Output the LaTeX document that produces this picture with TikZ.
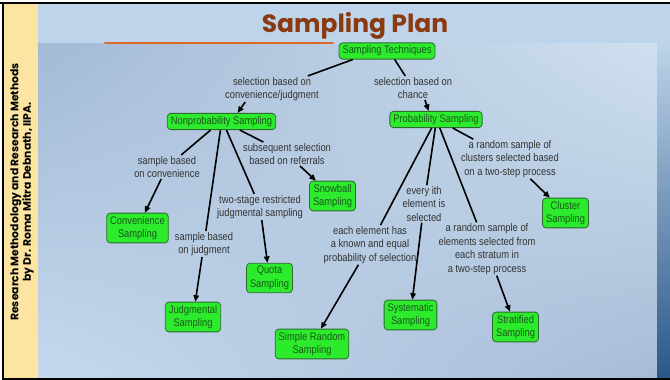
\documentclass[tikz,border=0pt]{standalone}
\usepackage{fontspec}
\setmainfont{Liberation Sans}
\newfontfamily\mapfont{Liberation Sans}[FakeStretch=0.85]
\newfontfamily\slidefont{Poppins}
\usetikzlibrary{arrows.meta,shadings}
\definecolor{slideblue}{HTML}{BDD4EA}
\definecolor{panelul}{HTML}{A3BAD5}
\definecolor{panelur}{HTML}{CFE0F0}
\definecolor{panelll}{HTML}{C5D9EE}
\definecolor{panellr}{HTML}{A6BCD6}
\definecolor{stripblue}{HTML}{2B5788}
\definecolor{credityellow}{HTML}{FCE4A2}
\definecolor{titlebrown}{HTML}{8B3A10}
\definecolor{ruleorange}{HTML}{E0692A}
\definecolor{boxgreen}{HTML}{2CEB2C}
\definecolor{boxedge}{HTML}{2F6B2F}
\definecolor{boxtext}{HTML}{1C561C}
\definecolor{phrasegray}{HTML}{333333}

\begin{document}
\begin{tikzpicture}[x=1pt, y=-1pt, concept/.style={draw=boxedge, fill=boxgreen, rounded corners=3.5pt, line width=0.8pt, align=center, inner xsep=3.5pt, inner ysep=3pt, text=boxtext, font=\mapfont\fontsize{11}{13.5}\selectfont}, phrase/.style={align=center, inner sep=1pt, text=phrasegray, font=\mapfont\fontsize{11}{13.5}\selectfont}, link/.style={line width=1.6pt, black}, arr/.style={-{Triangle[length=6.5pt, width=5.5pt]}, line width=1.6pt, black}]
\useasboundingbox (0,0) rectangle (670,380);
% slide background
\fill[white] (0,0) rectangle (670,380); \fill[slideblue] (4,4) rectangle (670,378);
\shade[upper left=panelul, upper right=panelur, lower left=panelll, lower right=panellr] (38,43) rectangle (657,378);
\shade[top color=slideblue, bottom color=stripblue] (657,43) rectangle (670,378);
\fill[credityellow] (4,4) rectangle (38,378);
\draw[line width=2pt] (0,3) -- (670,3); \draw[line width=2pt] (3,3) -- (3,379) -- (670,379);
\draw[ruleorange, line width=2pt, line cap=round] (105,43) -- (333,43);
\node[font=\slidefont\bfseries\fontsize{25}{30}\selectfont, text=titlebrown, anchor=base] (title) at (355,32) {Sampling Plan};
\node[rotate=90, align=center, font=\slidefont\bfseries\fontsize{10.8}{12.5}\selectfont] (credit) at (22,192) {Research Methodology and Research Methods\\by Dr. Roma Mitra Debnath, IIPA.};
% concepts
\node[concept] (tech) at (387,51) {Sampling Techniques}; \node[concept] (nonprob) at (221.5,121.5) {Nonprobability Sampling}; \node[concept] (prob) at (436,119.5) {Probability Sampling};
\node[concept] (conv) at (137.5,228) {Convenience\\Sampling}; \node[concept] (snow) at (332.5,196) {Snowball\\Sampling}; \node[concept] (cluster) at (565.5,213) {Cluster\\Sampling}; \node[concept] (quota) at (269.5,278) {Quota\\Sampling};
\node[concept] (judg) at (193,317) {Judgmental\\Sampling}; \node[concept] (srs) at (312,344) {Simple Random\\Sampling}; \node[concept] (syst) at (410.5,315) {Systematic\\Sampling}; \node[concept] (strat) at (515.5,327) {Stratified\\Sampling};
% linking phrases
\node[phrase] (convjudg) at (272,89) {selection based on\\convenience/judgment}; \node[phrase] (chance) at (413,88) {selection based on\\chance};
\node[phrase] (byconv) at (167,167) {sample based\\on convenience}; \node[phrase] (referral) at (287,154) {subsequent selection\\based on referrals}; \node[phrase] (twostage) at (260,207) {two-stage restricted\\judgmental sampling}; \node[phrase] (byjudg) at (204,244) {sample based\\on judgment};
\node[phrase] (clusters) at (510,159) {a random sample of\\clusters selected based\\on a two-step process}; \node[phrase] (everyith) at (424,204) {every ith\\element is\\selected}; \node[phrase] (equalprob) at (370,245) {each element has\\a known and equal\\probability of selection}; \node[phrase] (strata) at (487,249) {a random sample of\\elements selected from\\each stratum in\\a two-step process};
% connectors
\draw[link] (tech.-166) -- (convjudg); \draw[arr] (convjudg.-154) -- (nonprob.28); \draw[link] (tech.-48) -- (chance); \draw[arr] (chance.-45) -- (prob.131);
\draw[link] (nonprob.-142) -- (byconv); \draw[arr] (byconv) -- (conv); \draw[link] (nonprob.-97) -- (byjudg); \draw[arr] (byjudg) -- (judg);
\draw[link] (nonprob.-60) -- (twostage); \draw[arr] (twostage) -- (quota); \draw[link] (nonprob.-25) -- (referral); \draw[arr] (referral) -- (snow);
\draw[link] (prob.-117) -- (equalprob); \draw[arr] (equalprob) -- (srs); \draw[link] (prob.-95) -- (everyith); \draw[arr] (everyith) -- (syst);
\draw[link] (prob.-66) -- (strata); \draw[arr] (strata) -- (strat); \draw[link] (prob.-27) -- (clusters); \draw[arr] (clusters) -- (cluster);
\end{tikzpicture}
\end{document}
